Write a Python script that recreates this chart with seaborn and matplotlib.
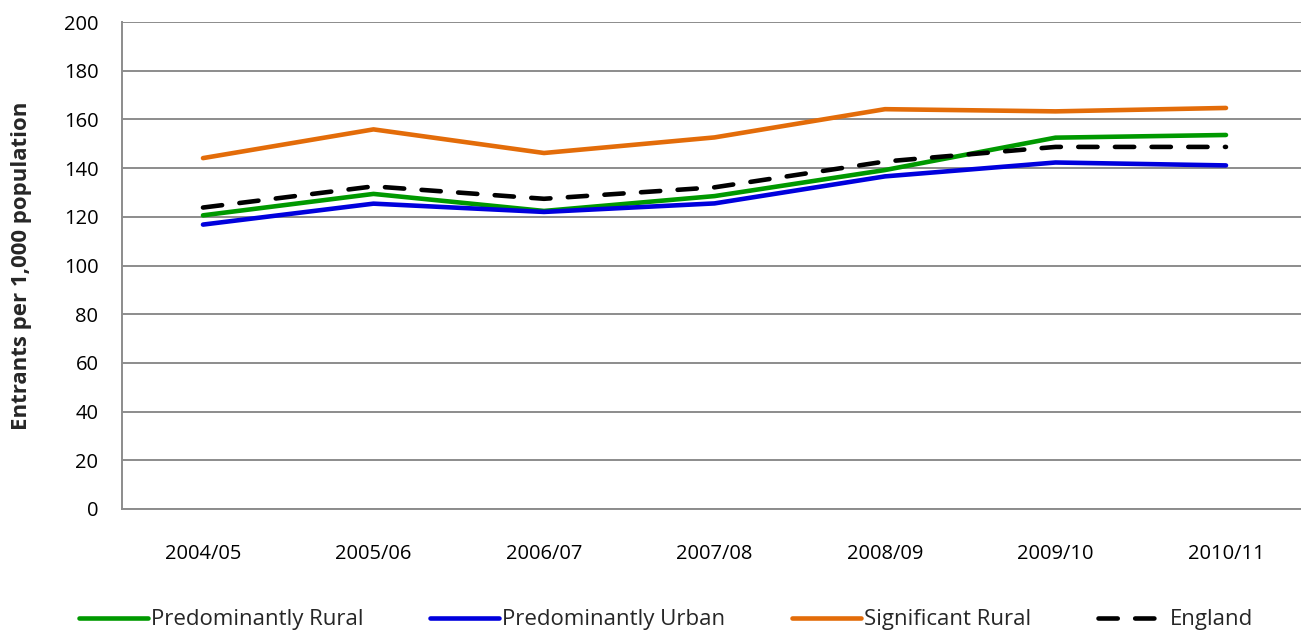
import matplotlib
matplotlib.use("Agg")
import matplotlib.pyplot as plt
import seaborn as sns
import pandas as pd

years = ["2004/05", "2005/06", "2006/07", "2007/08", "2008/09", "2009/10", "2010/11"]
pred_rural = [120.6, 129.4, 122.4, 128.5, 139.2, 152.5, 153.6]
pred_urban = [116.8, 125.4, 122.0, 125.5, 136.6, 142.3, 141.1]
sig_rural = [144.1, 155.9, 146.2, 152.6, 164.2, 163.3, 164.7]
england = [123.8, 132.5, 127.4, 132.1, 142.7, 148.7, 148.7]

series_names = ["Predominantly Rural", "Predominantly Urban", "Significant Rural", "England"]
colours = ["#009900", "#0000dd", "#e36c09", "#000000"]

rows = []
for name, vals in zip(series_names, [pred_rural, pred_urban, sig_rural, england]):
    for i, v in enumerate(vals):
        rows.append({"year": years[i], "idx": i, "value": v, "series": name})
df = pd.DataFrame(rows)

sns.set_style("white")
plt.rcParams['font.family'] = ['Open Sans', 'DejaVu Sans']

fig = plt.figure(figsize=(13.01, 6.30), dpi=100)
ax = fig.add_axes([122 / 1301, 1 - 509 / 630, 1 - 122 / 1301, 487 / 630])

grid_col = "#8c8c8c"
for name, col in zip(series_names, colours):
    sub = df[df["series"] == name]
    ls = (0, (4.2, 3.8)) if name == "England" else "-"
    sns.lineplot(data=sub, x="idx", y="value", ax=ax, color=col, linewidth=3.3,
                 linestyle=ls, label=name, solid_capstyle="round",
                 dash_capstyle="round", zorder=3)

ax.set_ylim(0, 200)
ax.set_yticks(range(0, 201, 20))
ax.set_xlim(-0.475, 6.44)
ax.set_xticks(range(len(years)))
ax.set_xticklabels(years)
ax.yaxis.grid(True, color=grid_col, linewidth=1.4)
ax.set_axisbelow(True)
ax.tick_params(axis="both", length=0, labelsize=14.5, colors="#000000")
ax.tick_params(axis="x", pad=25)
ax.tick_params(axis="y", pad=17)
for s in ["top", "right"]:
    ax.spines[s].set_visible(False)
for s in ["left", "bottom"]:
    ax.spines[s].set_color(grid_col)
    ax.spines[s].set_linewidth(1.4)

ax.set_xlabel("")
ax.set_ylabel("Entrants per 1,000 population", fontsize=16, fontweight="bold")
ax.yaxis.set_label_coords(-0.076, 0.5)

handles, labels = ax.get_legend_handles_labels()
ax.get_legend().remove()
fig.legend(handles, labels, loc="center", bbox_to_anchor=(0.512, 0.016), ncol=4,
           frameon=False, fontsize=16, handlelength=3.1, handletextpad=0.15,
           columnspacing=3.0)

fig.savefig("out.png", dpi=100)
